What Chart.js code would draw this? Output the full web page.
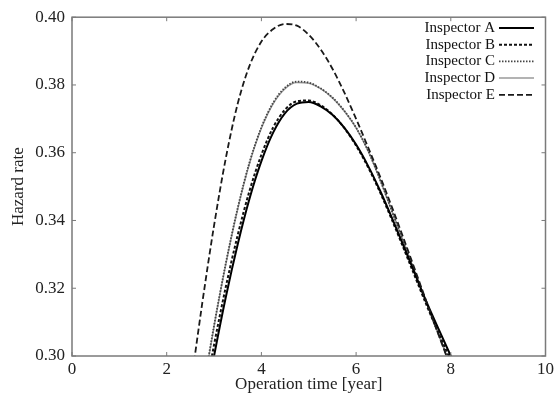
<!DOCTYPE html>
<html>
<head>
<meta charset="utf-8">
<script src="https://cdn.jsdelivr.net/npm/chart.js@4/dist/chart.umd.min.js"></script>
<style>
  body { margin: 0; background: #fff; }
</style>
</head>
<body>
<canvas id="chart" width="557" height="399"></canvas>
<script>
// operation time grid [year]
const years = [2.5, 2.75, 3.0, 3.25, 3.5, 3.75, 4.0, 4.25, 4.5, 4.75, 5.0, 5.25,
  5.5, 5.75, 6.0, 6.25, 6.5, 6.75, 7.0, 7.25, 7.5, 7.75, 8.0, 8.25];

// hazard rate
const inspectorA = [0.262, 0.281, 0.300, 0.3175, 0.3330, 0.3465, 0.3575, 0.3660, 0.3717, 0.3745, 0.3750, 0.3737,
  0.3712, 0.3674, 0.3624, 0.3562, 0.3490, 0.3410, 0.3326, 0.3240, 0.3155, 0.3077, 0.3000, 0.2925];
const inspectorB = [0.265, 0.2845, 0.3033, 0.3205, 0.3357, 0.3488, 0.3594, 0.3675, 0.3727, 0.3752, 0.3754, 0.3740,
  0.3713, 0.3673, 0.3621, 0.3558, 0.3485, 0.3404, 0.3319, 0.3232, 0.3146, 0.3065, 0.2987, 0.2910];
const inspectorC = [0.2665, 0.2885, 0.3090, 0.3275, 0.3437, 0.3572, 0.3675, 0.3748, 0.3792, 0.3810, 0.3807, 0.3790,
  0.3763, 0.3724, 0.3674, 0.3607, 0.3523, 0.3430, 0.3337, 0.3245, 0.3152, 0.3060, 0.2968, 0.2875];
const inspectorD = [0.2662, 0.2882, 0.3087, 0.3272, 0.3434, 0.3569, 0.3672, 0.3745, 0.3789, 0.3807, 0.3805, 0.3789,
  0.3762, 0.3723, 0.3673, 0.3606, 0.3522, 0.3430, 0.3337, 0.3245, 0.3152, 0.3060, 0.2968, 0.2875];
const inspectorE = [0.2905, 0.3155, 0.3385, 0.3585, 0.3745, 0.3857, 0.3928, 0.3965, 0.3980, 0.3975, 0.3948, 0.3905,
  0.3848, 0.3778, 0.3700, 0.3617, 0.3532, 0.3442, 0.3348, 0.3252, 0.3155, 0.3060, 0.2965, 0.2870];

const xTicks = [0, 2, 4, 6, 8, 10];
const yTicks = [0.30, 0.32, 0.34, 0.36, 0.38, 0.40];

const toPoints = vals => years.map((t, i) => ({ x: t, y: vals[i] }));
const serif = "'Liberation Serif', 'DejaVu Serif', serif";

// frame, inward tick marks and the legend drawn like the original figure
const framePlugin = {
  id: "frame",
  afterDraw(chart) {
    const { ctx, chartArea: a, scales } = chart;
    ctx.save();
    ctx.strokeStyle = "#7a7a7a";
    ctx.lineWidth = 1.5;
    ctx.strokeRect(a.left, a.top, a.right - a.left, a.bottom - a.top);
    ctx.lineWidth = 1;
    ctx.beginPath();
    xTicks.forEach(v => {
      const px = scales.x.getPixelForValue(v);
      ctx.moveTo(px, a.bottom); ctx.lineTo(px, a.bottom - 4);
      ctx.moveTo(px, a.top); ctx.lineTo(px, a.top + 4);
    });
    yTicks.forEach(v => {
      const py = scales.y.getPixelForValue(v);
      ctx.moveTo(a.left, py); ctx.lineTo(a.left + 4, py);
      ctx.moveTo(a.right, py); ctx.lineTo(a.right - 4, py);
    });
    ctx.stroke();

    // legend: label, then line sample on the right
    ctx.font = "15px " + serif;
    ctx.textAlign = "right";
    ctx.textBaseline = "middle";
    chart.data.datasets.forEach((ds, i) => {
      const y = 28 + i * 16.7;
      ctx.fillStyle = "#111";
      ctx.fillText(ds.label, 495, y);
      ctx.strokeStyle = ds.borderColor;
      ctx.lineWidth = ds.borderWidth;
      ctx.setLineDash(ds.borderDash || []);
      ctx.beginPath();
      ctx.moveTo(499, y); ctx.lineTo(534, y);
      ctx.stroke();
      ctx.setLineDash([]);
    });
    ctx.restore();
  }
};

new Chart(document.getElementById("chart"), {
  type: "line",
  data: {
    datasets: [
      { label: "Inspector A", data: toPoints(inspectorA), borderColor: "#000", borderWidth: 2, order: 1 },
      { label: "Inspector B", data: toPoints(inspectorB), borderColor: "#111", borderWidth: 2, borderDash: [3, 2], order: 2 },
      { label: "Inspector C", data: toPoints(inspectorC), borderColor: "#444", borderWidth: 1.8, borderDash: [1.5, 1.5], order: 3 },
      { label: "Inspector D", data: toPoints(inspectorD), borderColor: "#9a9a9a", borderWidth: 1.5, order: 4 },
      { label: "Inspector E", data: toPoints(inspectorE), borderColor: "#1a1a1a", borderWidth: 1.8, borderDash: [6, 3], order: 0 },
    ],
  },
  options: {
    responsive: false,
    animation: false,
    devicePixelRatio: 1,
    layout: { padding: { top: 17, right: 11, left: 0, bottom: 0 } },
    elements: {
      point: { radius: 0 },
      line: { cubicInterpolationMode: "monotone", fill: false },
    },
    plugins: { legend: { display: false }, tooltip: { enabled: false } },
    scales: {
      x: {
        type: "linear",
        min: 0,
        max: 10,
        grid: { display: false, drawTicks: false },
        border: { display: false },
        afterBuildTicks: s => { s.ticks = xTicks.map(v => ({ value: v })); },
        afterFit: s => { s.height = 43; },
        ticks: { color: "#222", font: { family: serif, size: 17 }, padding: 3, maxRotation: 0 },
        title: {
          display: true,
          text: "Operation time [year]",
          color: "#222",
          font: { family: serif, size: 17 },
          padding: { top: 0, bottom: 4 },
        },
      },
      y: {
        min: 0.30,
        max: 0.40,
        grid: { display: false, drawTicks: false },
        border: { display: false },
        afterBuildTicks: s => { s.ticks = yTicks.map(v => ({ value: v })); },
        afterFit: s => { s.width = 72; },
        ticks: { color: "#222", font: { family: serif, size: 17 }, padding: 7, callback: v => v.toFixed(2) },
        title: {
          display: true,
          text: "Hazard rate",
          color: "#222",
          font: { family: serif, size: 17 },
          padding: { top: 8, bottom: 0 },
        },
      },
    },
  },
  plugins: [framePlugin],
});
</script>
</body>
</html>
